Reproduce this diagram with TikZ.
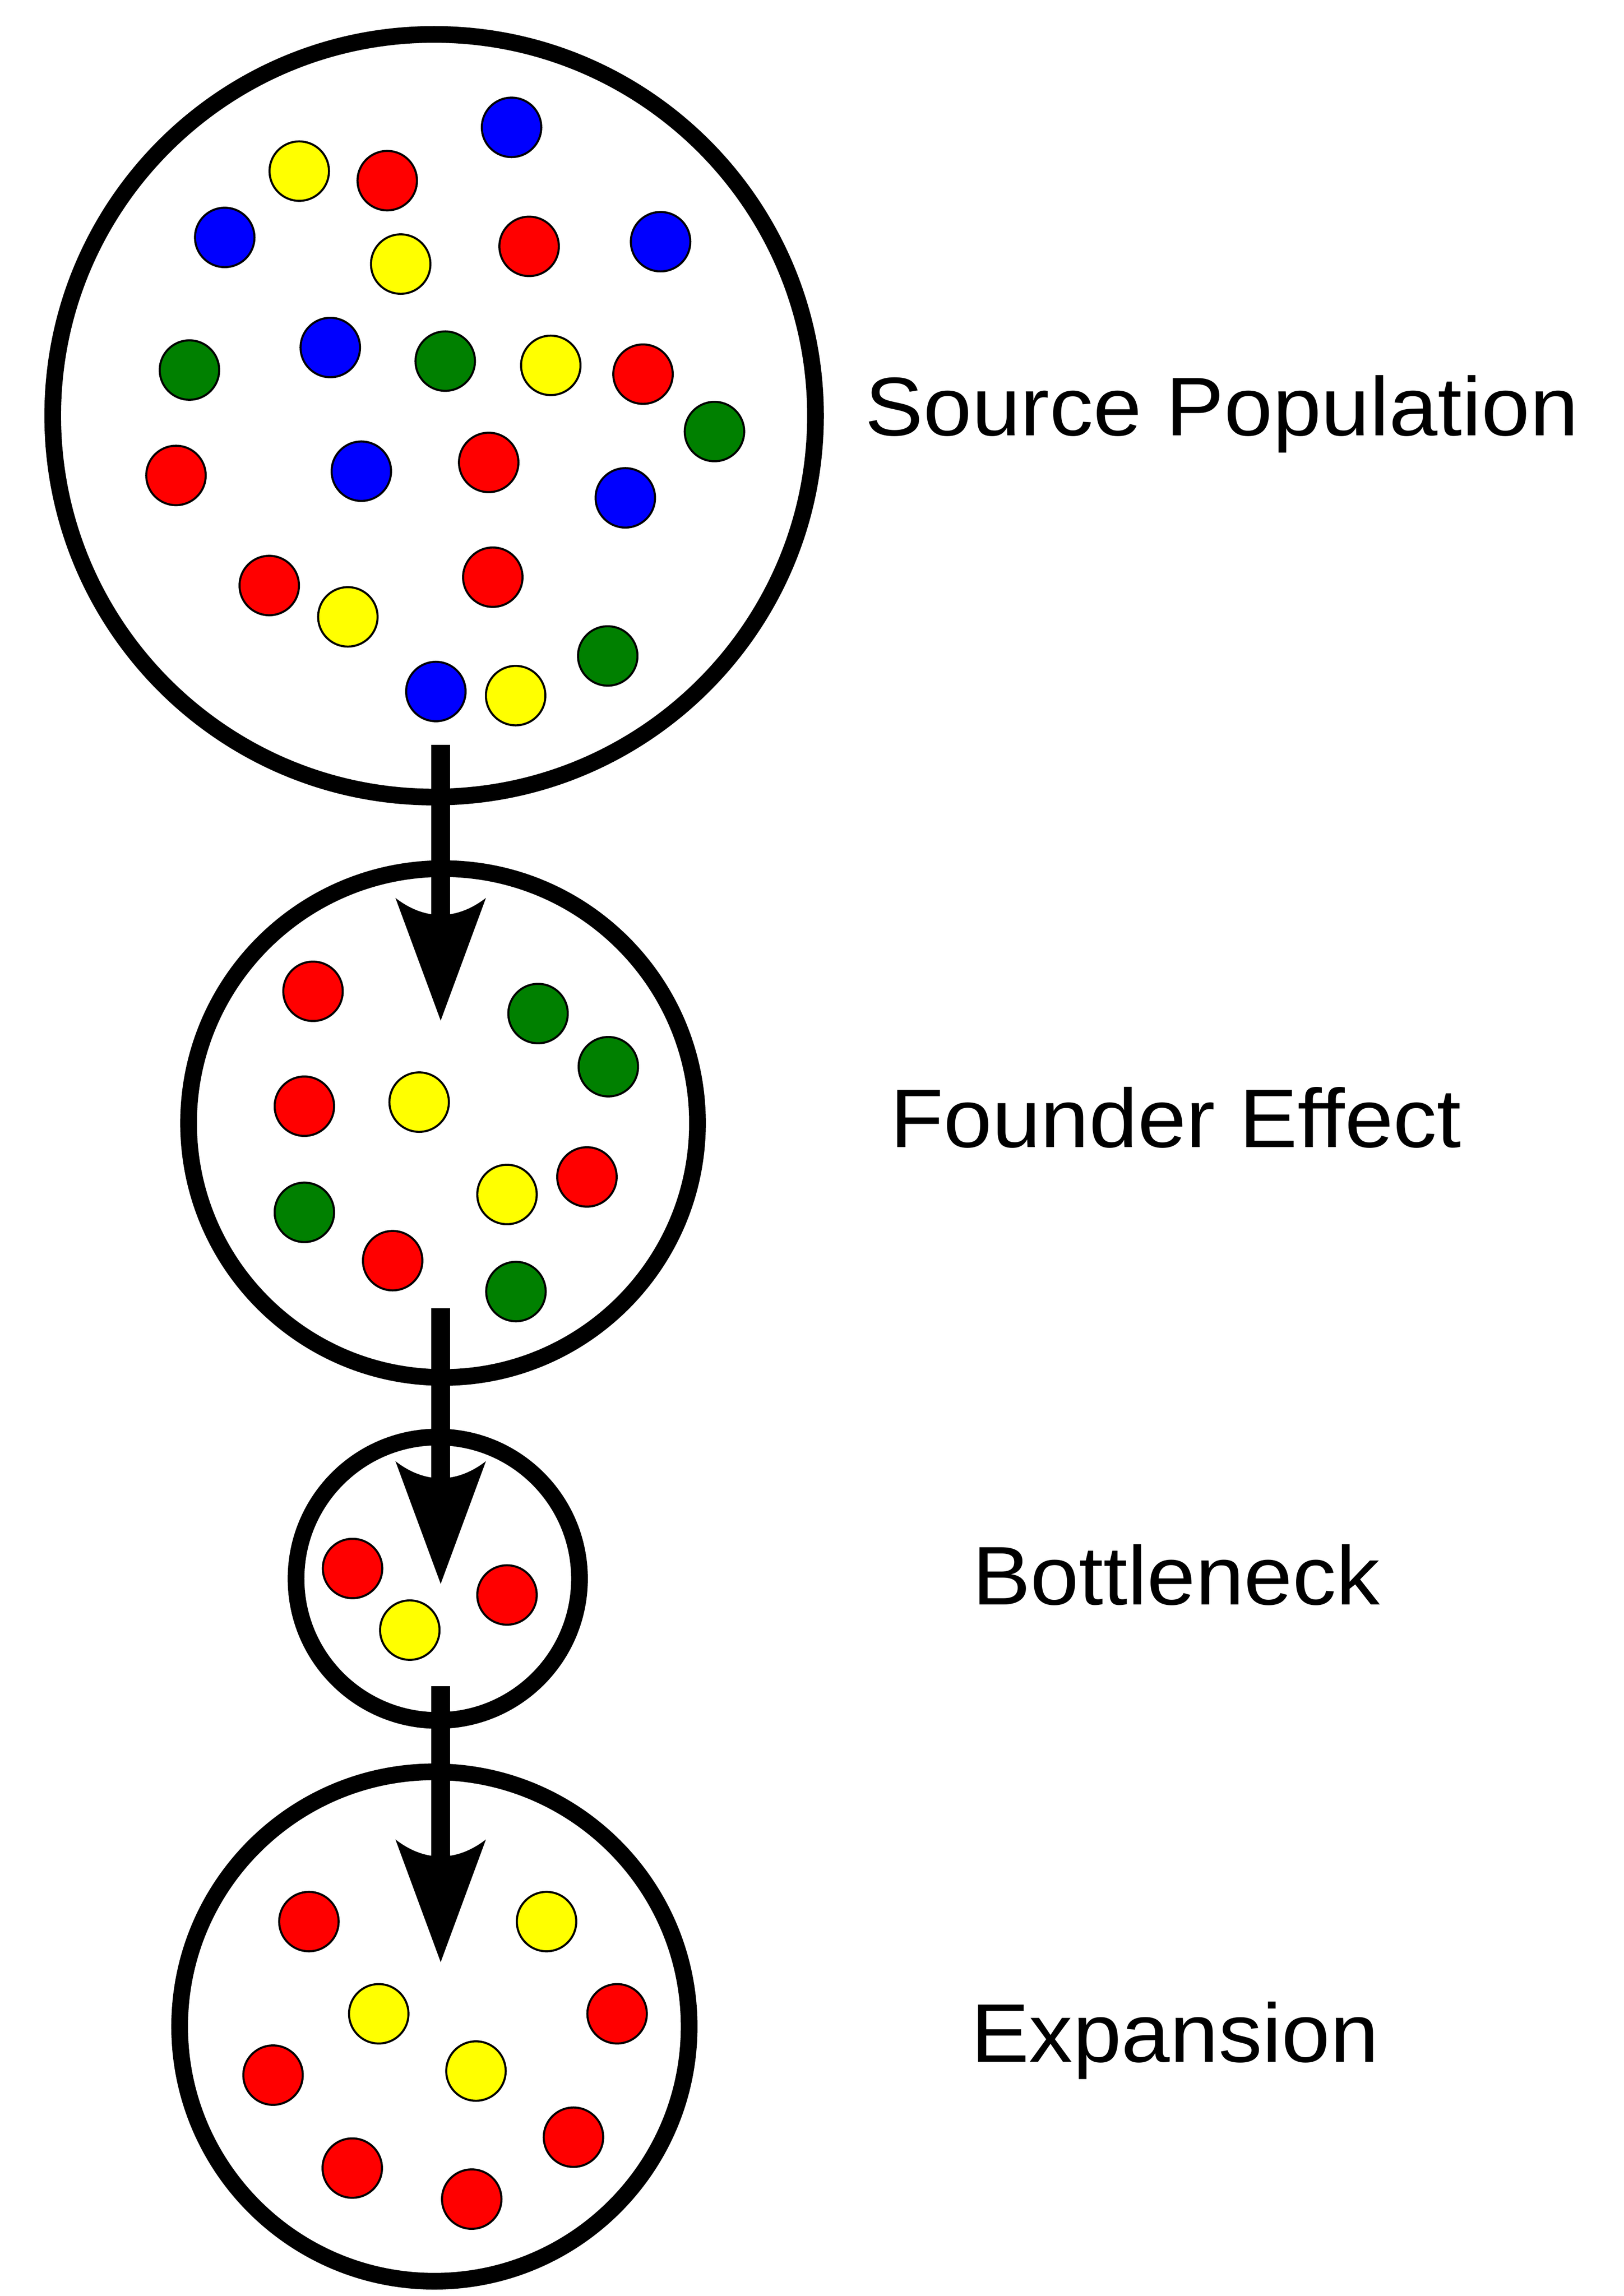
\documentclass[tikz,border=0pt]{standalone}
\usepackage{fontspec}
\usetikzlibrary{calc}
\newfontfamily\labfont[FakeStretch=1.05]{Liberation Sans}
\definecolor{dotred}{HTML}{FF0000}
\definecolor{dotblue}{HTML}{0000FF}
\definecolor{dotgreen}{HTML}{008000}
\definecolor{dotyellow}{HTML}{FFFF00}
\tikzset{
  popcircle/.style={circle, draw=black, line width=11.4pt, inner sep=0pt},
  dot/.style={circle, draw=black, line width=1.4pt, inner sep=0pt, minimum size=40.6pt},
  R/.style={dot, fill=dotred},
  B/.style={dot, fill=dotblue},
  G/.style={dot, fill=dotgreen},
  Y/.style={dot, fill=dotyellow},
  lab/.style={anchor=base west, inner sep=0pt, font=\labfont\fontsize{56.8}{68}\selectfont},
  shaft/.style={line width=12.7pt, line cap=butt},
}
\newcommand\popHead[1]{%
  \begin{scope}[shift={(#1)}]
    \fill[black] (0,0) -- (-30.9,-83.8) .. controls (-10.9,-68.3) and (10.9,-68.3) .. (30.9,-83.8) -- cycle;
  \end{scope}}
\begin{document}
\begin{tikzpicture}[x=1pt, y=-1pt]
\useasboundingbox (0,0) rectangle (1109.1,1568.5);
\fill[white] (0,0) rectangle (1109.1,1568.5);

% population circles
\node[popcircle, minimum size=521pt] (src) at (296.5,284) {};
\node[popcircle, minimum size=347.6pt] (fnd) at (302.6,767.2) {};
\node[popcircle, minimum size=193.6pt] (btl) at (299,1078.5) {};
\node[popcircle, minimum size=348pt] (exp) at (296.7,1384.4) {};

% source population dots
\node[Y] (s1) at (204.4,116.9) {};
\node[R] (s2) at (264.5,123.4) {};
\node[B] (s3) at (349.4,87.0) {};
\node[B] (s4) at (153.5,162.2) {};
\node[Y] (s5) at (273.7,180.4) {};
\node[R] (s6) at (361.4,168.3) {};
\node[B] (s7) at (451.2,165.1) {};
\node[G] (s8) at (129.4,252.8) {};
\node[B] (s9) at (225.6,237.4) {};
\node[G] (s10) at (304.1,246.7) {};
\node[Y] (s11) at (376.2,249.6) {};
\node[R] (s12) at (439.2,255.6) {};
\node[G] (s13) at (488.0,294.8) {};
\node[R] (s14) at (120.2,324.8) {};
\node[B] (s15) at (246.8,321.9) {};
\node[R] (s16) at (333.8,315.9) {};
\node[B] (s17) at (427.1,340.1) {};
\node[R] (s18) at (183.9,400.0) {};
\node[Y] (s19) at (237.6,421.4) {};
\node[R] (s20) at (336.6,394.3) {};
\node[B] (s21) at (297.7,472.4) {};
\node[Y] (s22) at (352.2,475.2) {};
\node[G] (s23) at (415.1,448.1) {};

% founder effect dots
\node[R] (f1) at (213.8,677.2) {};
\node[G] (f2) at (367.5,692.4) {};
\node[G] (f3) at (415.5,728.7) {};
\node[R] (f4) at (207.9,755.7) {};
\node[Y] (f5) at (286.3,752.9) {};
\node[G] (f6) at (207.9,828.2) {};
\node[R] (f7) at (400.9,804.0) {};
\node[Y] (f8) at (346.3,816.0) {};
\node[R] (f9) at (268.2,861.2) {};
\node[G] (f10) at (352.4,882.3) {};

% bottleneck dots
\node[R] (b1) at (240.8,1071.5) {};
\node[Y] (b2) at (279.9,1113.6) {};
\node[R] (b3) at (346.3,1089.6) {};

% expansion dots
\node[R] (e1) at (211.0,1312.7) {};
\node[Y] (e2) at (373.3,1312.7) {};
\node[Y] (e3) at (258.7,1375.7) {};
\node[R] (e4) at (421.5,1375.7) {};
\node[R] (e5) at (186.5,1417.6) {};
\node[Y] (e6) at (325.1,1414.8) {};
\node[R] (e7) at (391.7,1460.0) {};
\node[R] (e8) at (240.6,1481.1) {};
\node[R] (e9) at (322.2,1502.3) {};

% arrows
\coordinate (a1s) at (301,508.7);
\coordinate (a1t) at (301,697.2);
\coordinate (a2s) at (301,893.6);
\coordinate (a2t) at (301,1082.0);
\coordinate (a3s) at (301,1152.0);
\coordinate (a3t) at (301,1340.4);
\draw[shaft] (a1s) -- ($(a1t)+(0,-66)$);
\draw[shaft] (a2s) -- ($(a2t)+(0,-66)$);
\draw[shaft] (a3s) -- ($(a3t)+(0,-66)$);
\popHead{a1t}
\popHead{a2t}
\popHead{a3t}

% labels
\node[lab] (lsrc) at (590.7,297.4) {Source Population};
\node[lab] (lfnd) at (607.8,783.7) {Founder Effect};
\node[lab] (lbtl) at (663.9,1096.3) {Bottleneck};
\node[lab] (lexp) at (663.0,1408.6) {Expansion};
\end{tikzpicture}
\end{document}
